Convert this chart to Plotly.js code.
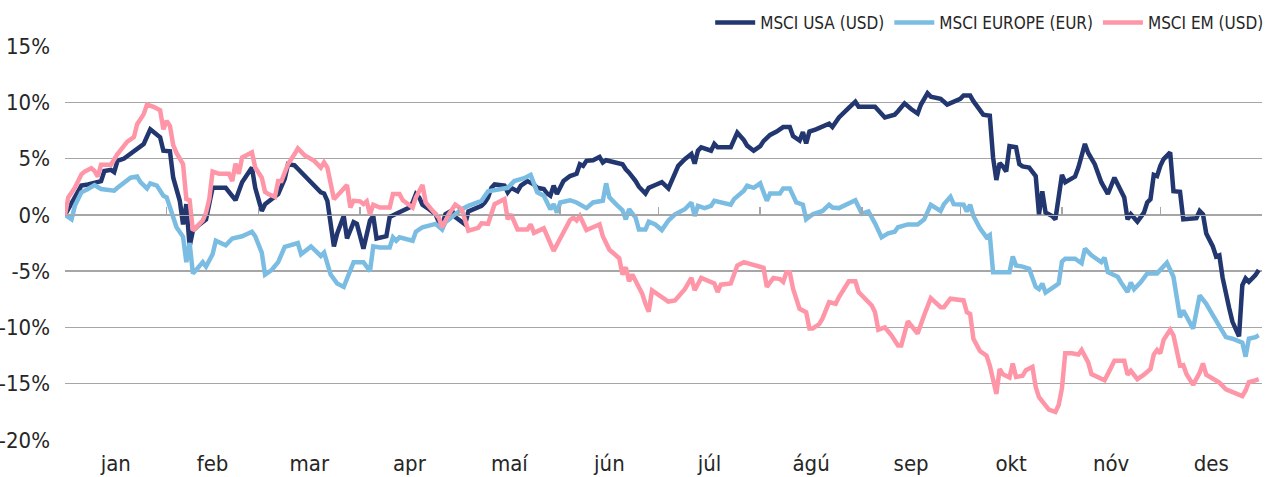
<!DOCTYPE html>
<html>
<head>
<meta charset="utf-8">
<script src="https://cdn.plot.ly/plotly-3.0.1.min.js"></script>
<style>
  html, body { margin: 0; padding: 0; background: #ffffff; }
  #chart { width: 1276px; height: 477px; }
</style>
</head>
<body>
<div id="chart"></div>
<script>
const seriesNames = ["MSCI USA (USD)", "MSCI EUROPE (EUR)", "MSCI EM (USD)"];

const usaDates = ["2018-01-01","2018-01-04","2018-01-06","2018-01-08","2018-01-10","2018-01-12","2018-01-13","2018-01-15","2018-01-16","2018-01-17","2018-01-19","2018-01-22","2018-01-24","2018-01-25","2018-01-27","2018-01-28","2018-01-30","2018-01-31",
"2018-02-02","2018-02-03","2018-02-05","2018-02-06","2018-02-07","2018-02-08","2018-02-09","2018-02-11","2018-02-13","2018-02-15","2018-02-19","2018-02-22","2018-02-24","2018-02-27","2018-02-28",
"2018-03-02","2018-03-03","2018-03-07","2018-03-09","2018-03-10","2018-03-12","2018-03-13","2018-03-15","2018-03-16","2018-03-20","2018-03-21","2018-03-22","2018-03-24","2018-03-25","2018-03-27","2018-03-28","2018-03-30","2018-03-31",
"2018-04-02","2018-04-04","2018-04-05","2018-04-06","2018-04-09","2018-04-10","2018-04-12","2018-04-16","2018-04-17","2018-04-18","2018-04-19","2018-04-20","2018-04-22","2018-04-24","2018-04-25","2018-04-26","2018-04-27","2018-04-29","2018-04-30",
"2018-05-03","2018-05-04","2018-05-06","2018-05-08","2018-05-09","2018-05-10","2018-05-11","2018-05-12","2018-05-15","2018-05-16","2018-05-17","2018-05-19","2018-05-20","2018-05-22","2018-05-24","2018-05-25","2018-05-27","2018-05-28","2018-05-29","2018-05-30","2018-05-31",
"2018-06-02","2018-06-04","2018-06-06","2018-06-07","2018-06-08","2018-06-09","2018-06-11","2018-06-13","2018-06-14","2018-06-15","2018-06-17","2018-06-20","2018-06-21","2018-06-22","2018-06-24","2018-06-25","2018-06-27","2018-06-28","2018-06-30",
"2018-07-02","2018-07-04","2018-07-06","2018-07-07","2018-07-09","2018-07-11","2018-07-12","2018-07-13","2018-07-14","2018-07-17","2018-07-18","2018-07-19","2018-07-23","2018-07-25","2018-07-27","2018-07-28","2018-07-30",
"2018-08-01","2018-08-02","2018-08-04","2018-08-06","2018-08-08","2018-08-10","2018-08-11","2018-08-13","2018-08-14","2018-08-15","2018-08-16","2018-08-18","2018-08-20","2018-08-22","2018-08-23","2018-08-25","2018-08-28","2018-08-30","2018-08-31",
"2018-09-05","2018-09-08","2018-09-11","2018-09-12","2018-09-14","2018-09-16","2018-09-18","2018-09-19","2018-09-21","2018-09-22","2018-09-25","2018-09-27","2018-09-29",
"2018-10-01","2018-10-02","2018-10-04","2018-10-05","2018-10-07","2018-10-08","2018-10-10","2018-10-11","2018-10-12","2018-10-13","2018-10-14","2018-10-15","2018-10-16","2018-10-18","2018-10-19","2018-10-20","2018-10-22","2018-10-24","2018-10-25","2018-10-26","2018-10-27","2018-10-29","2018-10-30","2018-10-31",
"2018-11-01","2018-11-02","2018-11-05","2018-11-06","2018-11-08","2018-11-09","2018-11-11","2018-11-13","2018-11-15","2018-11-17","2018-11-19","2018-11-20","2018-11-21","2018-11-22","2018-11-24","2018-11-26","2018-11-27","2018-11-28","2018-11-29","2018-11-30",
"2018-12-01","2018-12-02","2018-12-04","2018-12-05","2018-12-07","2018-12-08","2018-12-12","2018-12-13","2018-12-14","2018-12-15","2018-12-17","2018-12-18","2018-12-19","2018-12-20","2018-12-22","2018-12-23","2018-12-25","2018-12-26","2018-12-27","2018-12-28","2018-12-30","2018-12-31"];
const usaValues = [0,1.55,2.6,2.7,2.9,3.0,3.9,4.0,3.8,4.8,5.0,5.7,6.1,6.3,7.6,7.4,6.9,5.7,
5.65,3.3,1.25,-0.85,0.95,-2.8,-1.4,-0.85,-0.4,2.4,2.4,1.3,2.9,4.2,2.4,
0.35,0.95,1.85,3.2,4.5,4.4,4.1,3.5,3.3,2.0,1.9,1.25,-2.8,-1.65,-0.1,-2.1,-0.65,-0.8,
-3.0,-0.5,-0.1,-2.1,-1.9,-0.2,0.1,0.65,1.1,1.85,1.55,0.9,0.5,0.05,-0.65,-1.0,0.05,0.4,-0.2,
-0.85,0.3,0.5,0.8,1.1,1.55,2.4,2.7,2.6,2.0,2.4,2.1,2.6,3.0,2.7,2.4,2.3,1.9,1.7,2.6,1.85,
3.0,3.45,3.65,4.5,4.35,4.8,4.85,5.15,4.65,4.85,4.7,4.5,4.05,3.75,3.0,2.5,1.9,2.4,2.65,
2.9,2.35,3.6,4.35,4.95,5.4,4.55,5.7,6.0,5.7,6.3,6.0,6.0,7.3,6.65,6.15,5.7,
6.1,6.55,7.1,7.4,7.8,7.8,7.0,6.6,7.35,6.35,7.4,7.6,7.8,8.1,7.8,8.65,9.5,10.05,9.6,
9.6,8.65,8.9,9.2,9.9,9.4,9.0,9.8,10.8,10.5,10.3,9.8,10.1,
10.3,10.6,10.6,10.1,9.2,8.9,8.8,5.1,3.1,4.6,4.3,3.85,6.1,6.0,4.5,4.3,4.2,3.45,0.05,2.1,0.2,-0.1,-0.4,1.55,
3.55,2.9,3.4,4.2,6.3,5.5,4.5,2.9,1.85,3.3,2.1,1.55,-0.4,0.05,-0.6,0.2,1.1,1.4,3.55,3.45,
4.35,4.95,5.55,2.1,2.05,-0.4,-0.3,0.35,0.05,-1.65,-2.8,-3.7,-3.6,-5.6,-8.3,-9.5,-10.8,-6.25,-5.65,-5.95,-5.36,-4.9];

const europeDates = ["2018-01-01","2018-01-03","2018-01-04","2018-01-06","2018-01-08","2018-01-10","2018-01-12","2018-01-14","2018-01-16","2018-01-17","2018-01-19","2018-01-21","2018-01-23","2018-01-24","2018-01-26","2018-01-27","2018-01-29","2018-01-31",
"2018-02-01","2018-02-03","2018-02-04","2018-02-06","2018-02-07","2018-02-08","2018-02-09","2018-02-10","2018-02-12","2018-02-13","2018-02-15","2018-02-16","2018-02-19","2018-02-21","2018-02-24","2018-02-27","2018-02-28",
"2018-03-02","2018-03-03","2018-03-05","2018-03-07","2018-03-09","2018-03-11","2018-03-13","2018-03-14","2018-03-17","2018-03-20","2018-03-21","2018-03-23","2018-03-25","2018-03-27","2018-03-29","2018-03-30",
"2018-04-02","2018-04-04","2018-04-05","2018-04-07","2018-04-10","2018-04-11","2018-04-12","2018-04-13","2018-04-17","2018-04-18","2018-04-20","2018-04-24","2018-04-26","2018-04-27","2018-04-30",
"2018-05-02","2018-05-04","2018-05-08","2018-05-10","2018-05-14","2018-05-16","2018-05-18","2018-05-21","2018-05-23","2018-05-25","2018-05-27","2018-05-29","2018-05-30","2018-05-31",
"2018-06-01","2018-06-04","2018-06-06","2018-06-09","2018-06-11","2018-06-14","2018-06-15","2018-06-16","2018-06-18","2018-06-20","2018-06-21","2018-06-22","2018-06-24","2018-06-25","2018-06-27","2018-06-28","2018-06-30",
"2018-07-02","2018-07-04","2018-07-06","2018-07-09","2018-07-11","2018-07-12","2018-07-13","2018-07-15","2018-07-17","2018-07-18","2018-07-23","2018-07-24","2018-07-27","2018-07-28","2018-07-30","2018-07-31",
"2018-08-01","2018-08-03","2018-08-04","2018-08-07","2018-08-08","2018-08-10","2018-08-12","2018-08-14","2018-08-15","2018-08-17","2018-08-20","2018-08-22","2018-08-23","2018-08-25","2018-08-28","2018-08-30",
"2018-09-01","2018-09-03","2018-09-05","2018-09-07","2018-09-09","2018-09-11","2018-09-12","2018-09-15","2018-09-18","2018-09-20","2018-09-22","2018-09-25","2018-09-26","2018-09-28","2018-09-29",
"2018-10-02","2018-10-03","2018-10-04","2018-10-05","2018-10-07","2018-10-09","2018-10-10","2018-10-11","2018-10-16","2018-10-17","2018-10-18","2018-10-20","2018-10-22","2018-10-24","2018-10-25","2018-10-26","2018-10-27","2018-10-30","2018-10-31",
"2018-11-01","2018-11-02","2018-11-05","2018-11-07","2018-11-08","2018-11-10","2018-11-13","2018-11-14","2018-11-15","2018-11-18","2018-11-19","2018-11-21","2018-11-22","2018-11-23","2018-11-25","2018-11-27","2018-11-30",
"2018-12-03","2018-12-05","2018-12-07","2018-12-08","2018-12-10","2018-12-11","2018-12-13","2018-12-15","2018-12-17","2018-12-19","2018-12-21","2018-12-23","2018-12-26","2018-12-27","2018-12-28","2018-12-30","2018-12-31"];
const europeValues = [0,-0.4,0.8,2.0,2.3,2.65,2.3,2.2,2.15,2.4,2.9,3.3,3.4,2.9,2.35,2.8,2.6,1.7,
1.55,-0.4,-1.1,-1.95,-4.2,-2.5,-5.2,-4.9,-4.2,-4.6,-3.5,-2.3,-2.7,-2.1,-1.9,-1.5,-1.9,
-3.35,-5.3,-4.9,-4.2,-2.85,-2.65,-2.5,-3.5,-2.8,-3.65,-3.35,-5.3,-6.1,-6.4,-4.9,-4.2,
-4.2,-5.0,-2.8,-2.9,-2.9,-2.0,-2.3,-2.0,-2.3,-1.5,-1.1,-0.8,-1.3,-0.65,0.05,
0.5,0.8,1.25,2.1,2.3,2.4,3.0,3.25,3.55,2.0,1.7,0.5,0.95,0.2,
1.1,1.3,1.1,0.6,1.1,1.25,2.8,1.55,0.95,0.4,-0.4,0.5,-0.25,-1.3,-1.3,-0.6,-0.85,
-1.35,-0.5,0.05,0.5,1.1,-0.1,0.8,0.6,0.8,1.25,0.9,1.4,2.15,2.6,2.4,2.6,
2.8,1.25,1.9,1.9,2.35,2.35,1.1,0.9,-0.4,0.05,0.35,0.9,0.65,0.6,1.0,1.3,
0.1,0.3,-0.75,-2.0,-1.65,-1.5,-1.1,-0.85,-0.85,-0.4,0.9,0.35,0.95,1.6,0.95,
0.9,0.3,0.9,-0.1,-1.2,-2.0,-1.8,-5.1,-5.1,-3.7,-4.5,-4.6,-4.8,-6.4,-6.6,-6.1,-6.9,-6.3,-6.1,
-4.15,-3.9,-3.9,-4.3,-3.0,-3.6,-4.2,-3.8,-5.1,-5.5,-6.0,-6.85,-6.0,-6.6,-6.0,-5.2,-5.2,
-4.25,-5.5,-9.1,-8.5,-9.5,-10.1,-7.15,-7.9,-8.9,-9.9,-10.86,-11.0,-11.36,-12.6,-11.0,-10.86,-10.7];

const emDates = ["2018-01-01","2018-01-02","2018-01-04","2018-01-06","2018-01-07","2018-01-09","2018-01-10","2018-01-11","2018-01-12","2018-01-15","2018-01-17","2018-01-19","2018-01-20","2018-01-22","2018-01-23","2018-01-25","2018-01-26","2018-01-28","2018-01-30","2018-01-31",
"2018-02-01","2018-02-02","2018-02-03","2018-02-04","2018-02-06","2018-02-07","2018-02-08","2018-02-09","2018-02-10","2018-02-12","2018-02-13","2018-02-14","2018-02-15","2018-02-17","2018-02-20","2018-02-21","2018-02-22","2018-02-23","2018-02-24","2018-02-26","2018-02-27","2018-02-28",
"2018-03-02","2018-03-03","2018-03-04","2018-03-06","2018-03-07","2018-03-08","2018-03-10","2018-03-12","2018-03-13","2018-03-15","2018-03-18","2018-03-20","2018-03-21","2018-03-22","2018-03-24","2018-03-26","2018-03-28","2018-03-29","2018-03-30",
"2018-04-01","2018-04-02","2018-04-03","2018-04-04","2018-04-05","2018-04-07","2018-04-10","2018-04-11","2018-04-13","2018-04-14","2018-04-17","2018-04-18","2018-04-20","2018-04-21","2018-04-23","2018-04-25","2018-04-26","2018-04-28","2018-04-30",
"2018-05-02","2018-05-04","2018-05-07","2018-05-08","2018-05-10","2018-05-12","2018-05-15","2018-05-16","2018-05-17","2018-05-19","2018-05-22","2018-05-23","2018-05-24","2018-05-27","2018-05-30",
"2018-06-01","2018-06-04","2018-06-05","2018-06-06","2018-06-07","2018-06-09","2018-06-11","2018-06-13","2018-06-14","2018-06-16","2018-06-19","2018-06-20","2018-06-21","2018-06-22","2018-06-23","2018-06-26","2018-06-27","2018-06-28","2018-06-29",
"2018-07-01","2018-07-04","2018-07-06","2018-07-09","2018-07-11","2018-07-12","2018-07-14","2018-07-18","2018-07-19","2018-07-20","2018-07-23","2018-07-25","2018-07-27","2018-07-30",
"2018-08-01","2018-08-02","2018-08-03","2018-08-05","2018-08-07","2018-08-08","2018-08-09","2018-08-10","2018-08-11","2018-08-13","2018-08-15","2018-08-16","2018-08-17","2018-08-19","2018-08-20","2018-08-21","2018-08-22","2018-08-24","2018-08-25","2018-08-28","2018-08-30","2018-08-31",
"2018-09-02","2018-09-04","2018-09-05","2018-09-06","2018-09-08","2018-09-10","2018-09-12","2018-09-13","2018-09-15","2018-09-18","2018-09-20","2018-09-22","2018-09-25","2018-09-26","2018-09-28",
"2018-10-02","2018-10-03","2018-10-04","2018-10-05","2018-10-07","2018-10-09","2018-10-10","2018-10-12","2018-10-13","2018-10-14","2018-10-16","2018-10-17","2018-10-18","2018-10-20","2018-10-21","2018-10-23","2018-10-24","2018-10-25","2018-10-27","2018-10-28","2018-10-30","2018-10-31",
"2018-11-01","2018-11-02","2018-11-04","2018-11-06","2018-11-07","2018-11-09","2018-11-10","2018-11-13","2018-11-14","2018-11-16","2018-11-17","2018-11-20","2018-11-21","2018-11-22","2018-11-24","2018-11-26","2018-11-28","2018-11-29","2018-11-30",
"2018-12-01","2018-12-02","2018-12-04","2018-12-05","2018-12-07","2018-12-08","2018-12-09","2018-12-11","2018-12-13","2018-12-14","2018-12-15","2018-12-17","2018-12-19","2018-12-21","2018-12-23","2018-12-25","2018-12-26","2018-12-27","2018-12-28","2018-12-30","2018-12-31"];
const emValues = [0,1.55,2.4,3.6,3.85,4.15,3.9,3.4,4.45,4.45,5.4,6.2,6.5,6.9,8.05,8.95,9.8,9.6,9.3,7.6,
8.35,7.9,6.2,5.5,4.5,1.4,1.3,-1.4,-1.05,-0.5,0.2,1.4,3.85,3.65,3.65,3.0,4.55,3.65,5.1,5.4,5.55,4.2,
3.3,2.05,1.85,1.6,3.0,3.0,4.5,5.4,5.9,5.3,4.8,4.2,4.65,4.2,1.4,2.0,2.65,0.65,1.25,
1.2,0.95,1.2,0.05,0.9,0.65,0.65,1.85,1.85,1.3,0.65,1.55,2.65,1.1,0.4,-0.25,-1.1,0.05,0.9,
0.5,-1.4,-1.15,-0.75,-0.8,0.95,1.4,-0.4,0.05,-1.3,-1.3,-0.85,-1.6,-1.2,-3.2,
-2.1,-0.45,-0.25,-0.5,-0.1,-1.35,-1.1,-0.85,-1.9,-3.1,-3.85,-5.3,-4.65,-5.9,-5.3,-7.0,-7.9,-8.6,-6.7,
-7.1,-7.7,-7.6,-6.6,-5.6,-6.7,-5.6,-6.1,-6.85,-6.2,-6.1,-4.5,-4.2,-4.5,
-4.6,-4.7,-6.4,-5.6,-5.7,-5.95,-5.1,-5.1,-6.55,-8.35,-8.65,-10.1,-10.1,-9.7,-9.2,-8.4,-7.75,-7.9,-7.3,-5.9,-5.9,-6.85,
-7.45,-8.05,-8.65,-10.2,-10.0,-10.7,-11.6,-11.6,-9.45,-10.55,-8.9,-7.4,-8.2,-8.2,-7.45,
-7.6,-8.65,-8.8,-11.0,-12.1,-12.5,-13.4,-15.9,-13.7,-14.15,-14.45,-13.2,-14.4,-14.3,-13.8,-13.5,-15.3,-16.2,-16.9,-17.3,-17.5,-16.9,
-15.4,-12.3,-12.3,-12.4,-12.0,-13.1,-14.15,-14.6,-14.7,-13.55,-12.95,-12.95,-14.2,-13.85,-14.6,-14.2,-13.7,-12.4,-12.0,
-12.3,-11.1,-10.2,-10.7,-13.4,-13.35,-14.15,-15.1,-14.0,-13.2,-14.2,-14.6,-14.9,-15.5,-15.7,-16.0,-16.1,-15.6,-14.85,-14.7,-14.6];

const monthLabels = ["jan","feb","mar","apr","maí","jún","júl","ágú","sep","okt","nóv","des"];
const monthLabelDates = ["2018-01-16 12:00","2018-02-15","2018-03-16 12:00","2018-04-16","2018-05-16 12:00","2018-06-16","2018-07-16 12:00","2018-08-16 12:00","2018-09-16","2018-10-16 12:00","2018-11-16","2018-12-16 12:00"];
const monthStarts = ["2018-01-01","2018-02-01","2018-03-01","2018-04-01","2018-05-01","2018-06-01","2018-07-01","2018-08-01","2018-09-01","2018-10-01","2018-11-01","2018-12-01","2019-01-01"];
const yTickValues = [-20,-15,-10,-5,0,5,10,15];
const yTickLabels = ["-20%","-15%","-10%","-5%","0%","5%","10%","15%"];

const colors = ["#22366F", "#7BBDE2", "#FF96A8"];
const FONT = '"Liberation Sans Narrow", "DejaVu Sans Condensed", "Roboto Condensed", Roboto, sans-serif';

const xs = [usaDates, europeDates, emDates];
const ys = [usaValues, europeValues, emValues];

const traces = seriesNames.map((name, i) => ({
  type: "scatter",
  mode: "lines",
  name: name,
  x: xs[i],
  y: ys[i],
  line: { color: colors[i], width: 4.5, shape: "linear" },
  hoverinfo: "skip"
}));

// helper trace so the zero-line tick axis is drawn
traces.push({
  type: "scatter", mode: "lines", x: [monthStarts[0]], y: [null],
  xaxis: "x2", yaxis: "y", showlegend: false, hoverinfo: "skip"
});

const layout = {
  width: 1276,
  height: 477,
  margin: { l: 65, r: 14, t: 46, b: 37 },
  paper_bgcolor: "#ffffff",
  plot_bgcolor: "#ffffff",
  font: { family: FONT, color: "#262626", size: 20 },
  showlegend: true,
  legend: {
    orientation: "h",
    x: 1.006, xanchor: "right",
    yref: "container", y: 0.952, yanchor: "middle",
    font: { family: FONT, size: 17, color: "#262626" },
    bgcolor: "rgba(0,0,0,0)",
    itemwidth: 40,
    traceorder: "normal"
  },
  xaxis: {
    type: "date",
    range: ["2018-01-01", "2019-01-01"],
    tickmode: "array",
    tickvals: monthLabelDates,
    ticktext: monthLabels,
    ticks: "",
    showgrid: false,
    zeroline: false,
    showline: false,
    tickfont: { family: FONT, size: 22, color: "#262626" },
    ticklabelstandoff: 8,
    fixedrange: true
  },
  xaxis2: {
    type: "date",
    overlaying: "x",
    matches: "x",
    anchor: "free",
    position: 20 / 35,
    side: "bottom",
    range: ["2018-01-01", "2019-01-01"],
    tickmode: "array",
    tickvals: monthStarts,
    ticks: "inside",
    ticklen: 8,
    tickwidth: 1.5,
    tickcolor: "#a6a6a6",
    showticklabels: false,
    showgrid: false,
    zeroline: false,
    showline: true,
    linecolor: "#a6a6a6",
    linewidth: 1.5
  },
  yaxis: {
    range: [-20, 15],
    tickmode: "array",
    tickvals: yTickValues,
    ticktext: yTickLabels,
    ticks: "",
    showgrid: true,
    gridcolor: "#a6a6a6",
    gridwidth: 1.5,
    zeroline: false,
    showline: false,
    tickfont: { family: FONT, size: 22, color: "#262626" },
    ticklabelstandoff: 14,
    fixedrange: true
  }
};

Plotly.newPlot("chart", traces, layout, { displayModeBar: false, staticPlot: true });
</script>
</body>
</html>
